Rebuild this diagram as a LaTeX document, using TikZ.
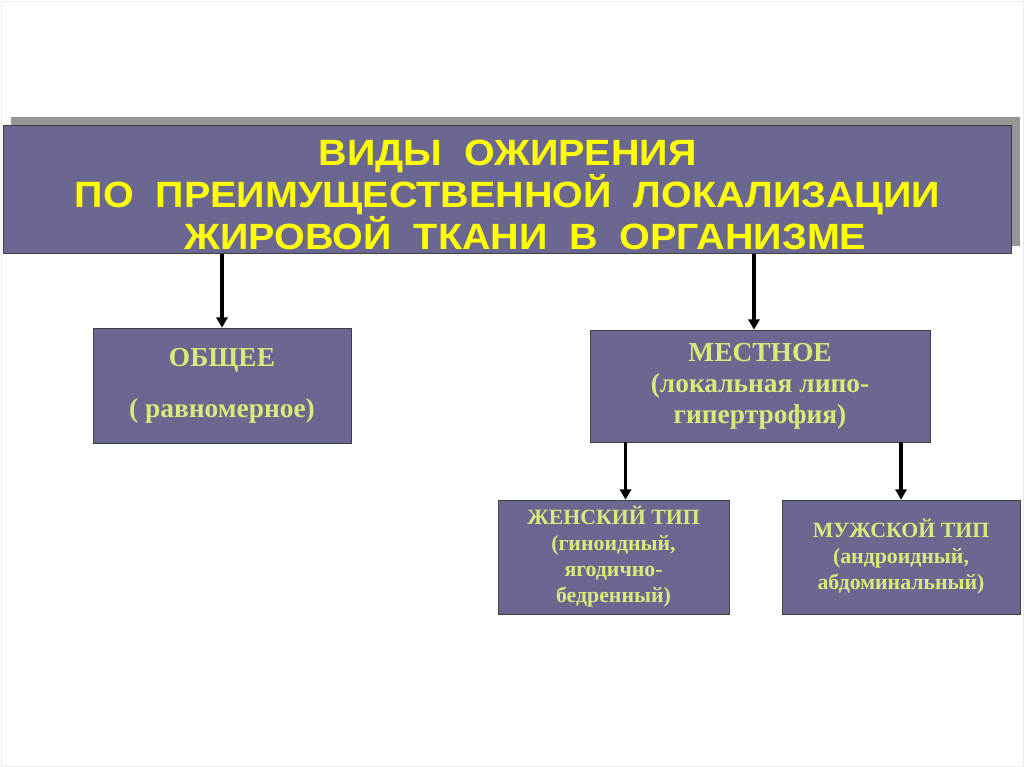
\documentclass[tikz,border=0pt]{standalone}
\usepackage{fontspec}
\newfontfamily\ttlfont[FakeStretch=1.08]{Liberation Sans}
\newfontfamily\boxfont{Liberation Serif}
\usetikzlibrary{arrows.meta,positioning,shadows}
\definecolor{slate}{RGB}{106,103,144}
\definecolor{ttlyel}{RGB}{255,255,0}
\definecolor{boxyel}{RGB}{218,234,120}
\definecolor{shadegray}{RGB}{150,150,150}
\tikzset{
  ttlbox/.style={draw=black!75, fill=slate, text=ttlyel, align=center,
    font=\ttlfont\bfseries\fontsize{26}{27.3}\selectfont,
    minimum width=25.2cm, minimum height=3.2cm, inner sep=0pt,
    drop shadow={shadow xshift=0.2cm, shadow yshift=0.2cm, fill=shadegray, opacity=1}},
  kind/.style={draw=black!75, fill=slate, text=boxyel, align=center, inner sep=0pt,
    font=\boxfont\bfseries\fontsize{19.5}{22}\selectfont},
  subkind/.style={kind, font=\boxfont\bfseries\fontsize{15.5}{18.5}\selectfont,
    minimum height=2.85cm},
  arr/.style={-{Triangle[length=2.6mm, width=2.8mm]}, line width=2.3pt, black},
}
\begin{document}
\begin{tikzpicture}[x=0.025cm, y=-0.025cm]
\useasboundingbox (0,0) rectangle (1024,767);
\draw[gray!15] (1,1) rectangle (1023,766);
%---- title
\node[ttlbox] (title) at (507.5,189.5)
  {\rule{0pt}{0.91cm}ВИДЫ\ \ ОЖИРЕНИЯ\\
   ПО\ \ ПРЕИМУЩЕСТВЕННОЙ\ \ ЛОКАЛИЗАЦИИ\\
   \hspace{0.9cm}ЖИРОВОЙ\ \ ТКАНИ\ \ В\ \ ОРГАНИЗМЕ};
%---- first level
\node[kind, minimum width=6.45cm, minimum height=2.875cm] (common) at (222,385.5)
  {ОБЩЕЕ\\[0.5cm] ( равномерное)};
\node[kind, minimum width=8.5cm, minimum height=2.8cm] (local) at (760,386)
  {МЕСТНОЕ\\ (локальная липо-\\ гипертрофия)};
%---- second level
\node[subkind, minimum width=5.775cm] (female) at (613.5,557)
  {ЖЕНСКИЙ ТИП\\ (гиноидный,\\ ягодично-\\ бедренный)};
\node[subkind, minimum width=5.95cm] (male) at (901,557)
  {МУЖСКОЙ ТИП\\ (андроидный,\\ абдоминальный)};
%---- arrows
\draw[arr] (title.south -| common.north) -- (common.north);
\draw[arr] ([xshift=-0.15cm]title.south -| local.north) -- ([xshift=-0.15cm]local.north);
\draw[arr] ([xshift=0.3cm]local.south -| female.north) -- ([xshift=0.3cm]female.north);
\draw[arr] (local.south -| male.north) -- (male.north);
\end{tikzpicture}
\end{document}
